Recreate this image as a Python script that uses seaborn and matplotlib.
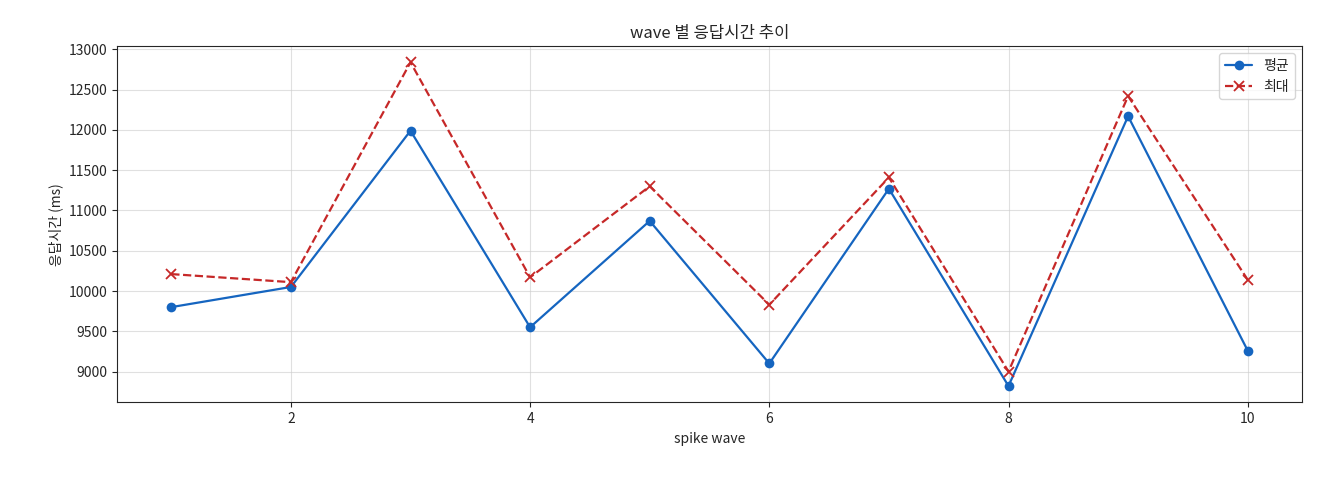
import matplotlib
matplotlib.use('Agg')
import matplotlib.pyplot as plt
import seaborn as sns
import pandas as pd

waves = [1, 2, 3, 4, 5, 6, 7, 8, 9, 10]
avg_ms = [9800, 10050, 11990, 9550, 10870, 9100, 11270, 8820, 12170, 9260]
max_ms = [10210, 10110, 12840, 10170, 11300, 9830, 11410, 9000, 12420, 10140]

sns.set_style('ticks')
plt.rcParams['font.family'] = ['Noto Sans CJK KR', 'DejaVu Sans']

df = pd.DataFrame({'wave': waves, 'avg': avg_ms, 'max': max_ms})

fig, ax = plt.subplots(figsize=(13.2, 4.8), dpi=100)
plt.subplots_adjust(left=0.089, right=0.986, top=0.904, bottom=0.162)
sns.lineplot(data=df, x='wave', y='avg', marker='o', markeredgewidth=0, markersize=7,
             color='#1565c0', linewidth=1.6, label='평균', ax=ax)
sns.lineplot(data=df, x='wave', y='max', marker='x', markersize=7, markeredgewidth=1.3,
             markeredgecolor='#c62828', color='#c62828', linewidth=1.6, linestyle='--',
             label='최대', ax=ax)
ax.grid(True, color='#cccccc', alpha=0.6, linewidth=0.8)
ax.set_title('wave 별 응답시간 추이', fontsize=12)
ax.set_xlabel('spike wave', fontsize=10)
ax.set_ylabel('응답시간 (ms)', fontsize=10)
ax.tick_params(labelsize=10)
ax.legend(loc='upper right', fontsize=10)
plt.savefig('out.png')
